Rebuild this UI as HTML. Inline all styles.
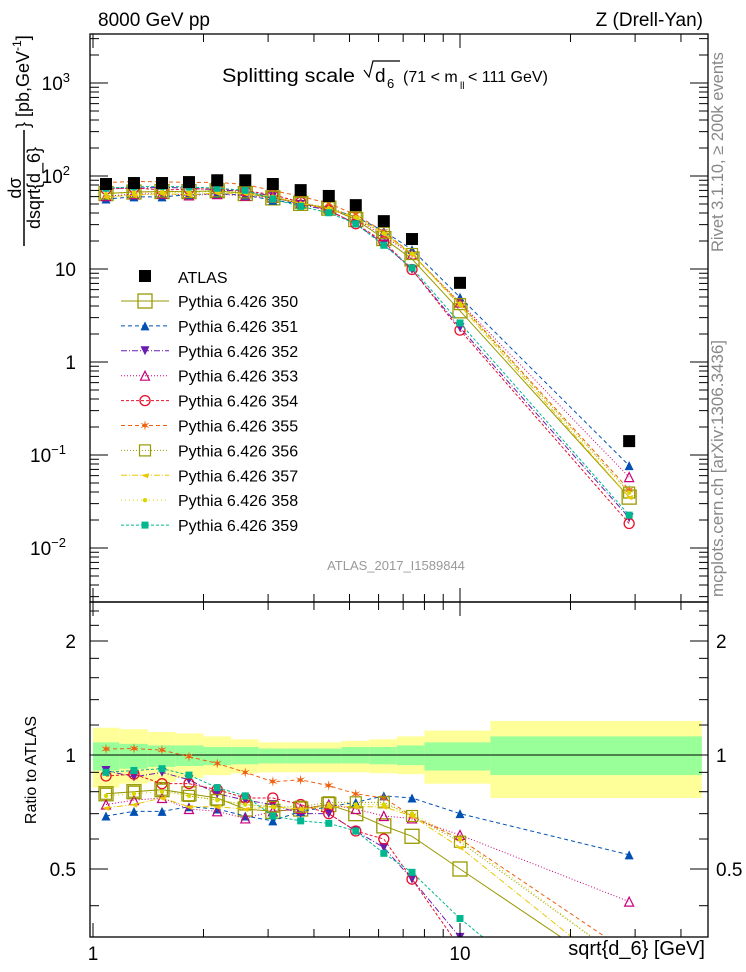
<!DOCTYPE html>
<html><head><meta charset="utf-8"><style>
html,body{margin:0;padding:0;background:#fff;overflow:hidden;width:746px;height:972px;}
svg{display:block;overflow:hidden;}
svg text{font-family:"Liberation Sans",sans-serif;}
</style></head><body>
<svg id="c" width="746" height="972" xmlns="http://www.w3.org/2000/svg"></svg>
<script>
const xCenters=[1.085,1.293,1.542,1.826,2.18,2.60,3.09,3.68,4.39,5.2,6.2,7.4,10,28.9];
const binEdges=[1,1.18,1.41,1.68,2,2.38,2.83,3.36,4,4.76,5.66,6.73,8,12.1,45.6];
const atlasValues=[82,84,84,86,90,90,82,70.5,61,48.6,32.7,21,7.1,0.141];
const bandYellowHi=[1.18,1.17,1.15,1.14,1.12,1.10,1.08,1.08,1.08,1.09,1.10,1.12,1.16,1.23];
const bandYellowLo=[0.82,0.84,0.85,0.87,0.885,0.895,0.90,0.90,0.90,0.90,0.895,0.89,0.84,0.77];
const bandGreenHi=[1.08,1.07,1.06,1.06,1.05,1.05,1.04,1.04,1.04,1.05,1.05,1.06,1.08,1.12];
const bandGreenLo=[0.91,0.92,0.93,0.935,0.94,0.945,0.95,0.95,0.95,0.95,0.945,0.94,0.91,0.885];
const seriesNames=["Pythia 6.426 350","Pythia 6.426 351","Pythia 6.426 352","Pythia 6.426 353","Pythia 6.426 354","Pythia 6.426 355","Pythia 6.426 356","Pythia 6.426 357","Pythia 6.426 358","Pythia 6.426 359"];
const ratio350=[0.79,0.80,0.81,0.79,0.77,0.72,0.71,0.72,0.74,0.70,0.65,0.61,0.50,0.25];
const ratio351=[0.69,0.71,0.71,0.73,0.72,0.69,0.67,0.71,0.73,0.75,0.78,0.77,0.70,0.545];
const ratio352=[0.91,0.875,0.90,0.86,0.79,0.76,0.74,0.70,0.70,0.63,0.57,0.47,0.33,0.15];
const ratio353=[0.74,0.76,0.77,0.72,0.71,0.68,0.71,0.72,0.74,0.72,0.69,0.68,0.615,0.41];
const ratio354=[0.88,0.89,0.84,0.84,0.81,0.77,0.77,0.74,0.70,0.63,0.60,0.47,0.31,0.13];
const ratio355=[1.037,1.04,1.03,0.99,0.95,0.90,0.85,0.86,0.83,0.79,0.77,0.69,0.60,0.30];
const ratio356=[0.79,0.80,0.81,0.78,0.76,0.74,0.73,0.73,0.75,0.75,0.75,0.69,0.59,0.28];
const ratio357=[0.725,0.74,0.77,0.73,0.73,0.72,0.73,0.72,0.73,0.73,0.73,0.69,0.57,0.25];
const ratio358=[0.78,0.79,0.80,0.78,0.76,0.74,0.73,0.72,0.74,0.74,0.74,0.70,0.60,0.28];
const ratio359=[0.90,0.91,0.92,0.885,0.82,0.78,0.69,0.67,0.66,0.63,0.55,0.49,0.37,0.16];
const ratios=[ratio350,ratio351,ratio352,ratio353,ratio354,ratio355,ratio356,ratio357,ratio358,ratio359];
const colors=["#999900","#0050b4","#6a1cb0","#c8007c","#e8102c","#f06010","#999900","#e8c800","#d8d800","#00b890"];
const dashes=["","4,3","6,2,1,2","1,2","3,2","4,3","1,2","6,2,1,2","1,3","3,2"];
const markers=["bigsq","tri","tridown","otri","ocirc","star","osq","star2","dot","sq"];

const NS="http://www.w3.org/2000/svg";
const svg=document.getElementById('c');
function el(t,a,p){const e=document.createElementNS(NS,t);for(const k in a)e.setAttribute(k,a[k]);(p||svg).appendChild(e);return e;}
const L=90,R=708,T=34,M=602,B=937;
const X=v=>93+367*Math.log10(v);
const Y=v=>362-93*Math.log10(v);
const RY=v=>755-114*Math.log2(v);

const defs=el('defs',{});
const cp1=el('clipPath',{id:'cm'},defs);el('rect',{x:L,y:T,width:R-L,height:M-T},cp1);
const cp2=el('clipPath',{id:'cr'},defs);el('rect',{x:L,y:M,width:R-L,height:B-M},cp2);

const gBand=el('g',{'clip-path':'url(#cr)'});


for(let i=0;i<xCenters.length;i++){
  const x0=X(binEdges[i]),x1=X(binEdges[i+1]);
  el('rect',{x:x0,y:RY(bandYellowHi[i]),width:x1-x0,height:RY(bandYellowLo[i])-RY(bandYellowHi[i]),fill:'#ffff99'},gBand);
  el('rect',{x:x0,y:RY(bandGreenHi[i]),width:x1-x0,height:RY(bandGreenLo[i])-RY(bandGreenHi[i]),fill:'#99ff99'},gBand);
}
el('line',{x1:L,x2:R,y1:RY(1),y2:RY(1),stroke:'#000','stroke-width':1},gBand);

function marker(g,type,x,y,c){
  const s=4.5;
  switch(type){
    case 'bigsq':return el('rect',{x:x-7,y:y-7,width:14,height:14,fill:'none',stroke:c,'stroke-width':1.3},g);
    case 'osq':return el('rect',{x:x-5.5,y:y-5.5,width:11,height:11,fill:'none',stroke:c,'stroke-width':1.2},g);
    case 'sq':return el('rect',{x:x-3.5,y:y-3.5,width:7,height:7,fill:c},g);
    case 'tri':return el('polygon',{points:`${x-s},${y+s} ${x+s},${y+s} ${x},${y-s}`,fill:c},g);
    case 'otri':return el('polygon',{points:`${x-s},${y+s} ${x+s},${y+s} ${x},${y-s}`,fill:'none',stroke:c,'stroke-width':1.2},g);
    case 'tridown':return el('polygon',{points:`${x-s},${y-s} ${x+s},${y-s} ${x},${y+s}`,fill:c},g);
    case 'ocirc':return el('circle',{cx:x,cy:y,r:5,fill:'none',stroke:c,'stroke-width':1.3},g);
    case 'star':{const t=el('text',{x:x,y:y+5,'text-anchor':'middle','font-size':14,fill:c},g);t.textContent='✶';return t;}
    case 'star2':return el('polygon',{points:`${x-4},${y} ${x+4},${y-2} ${x+3},${y+3}`,fill:c},g);
    case 'dot':return el('circle',{cx:x,cy:y,r:2.2,fill:c},g);
  }
}

for(let s=0;s<ratios.length;s++){
  const gm=el('g',{'clip-path':'url(#cm)'});
  
  
  const gr=el('g',{'clip-path':'url(#cr)'});
  
  
  const pm=xCenters.map((x,i)=>X(x)+','+Y(atlasValues[i]*ratios[s][i])).join(' ');
  const pr=xCenters.map((x,i)=>X(x)+','+RY(ratios[s][i])).join(' ');
  const st={fill:'none',stroke:colors[s],'stroke-width':1};
  if(dashes[s])st['stroke-dasharray']=dashes[s];
  el('polyline',Object.assign({points:pm},st),gm);
  el('polyline',Object.assign({points:pr},st),gr);
  xCenters.forEach((x,i)=>{
    marker(gm,markers[s],X(x),Y(atlasValues[i]*ratios[s][i]),colors[s]);
    marker(gr,markers[s],X(x),RY(ratios[s][i]),colors[s]);
  });
}
const ga=el('g',{'clip-path':'url(#cm)'});


xCenters.forEach((x,i)=>{el('rect',{x:X(x)-6,y:Y(atlasValues[i])-6,width:12,height:12,fill:'#000'},ga);});

el('rect',{x:L,y:T,width:R-L,height:M-T,fill:'none',stroke:'#000','stroke-width':1.3});
el('rect',{x:L,y:M,width:R-L,height:B-M,fill:'none',stroke:'#000','stroke-width':1.3});

const gx=el('g',{stroke:'#000','stroke-width':1});


for(let d=1;d<=40;d+=(d<10?1:10)){
  const x=X(d);if(x<L||x>R)continue;
  const big=(d===1||d===10);
  const len=big?14:8;
  [[T,1],[M,-1],[M,1],[B,-1]].forEach(([y0,dir])=>el('line',{x1:x,x2:x,y1:y0,y2:y0+dir*len},gx));
}
const gy=el('g',{stroke:'#000','stroke-width':1});


for(let e=-3;e<=3;e++){for(let m=1;m<10;m++){const y=Y(m*Math.pow(10,e));if(y<T||y>M)continue;const len=m===1?18:9;
  el('line',{x1:L,x2:L+len,y1:y,y2:y},gy);el('line',{x1:R,x2:R-len,y1:y,y2:y},gy);}}
[0.4,0.5,0.6,0.7,0.8,0.9,1,1.2,1.4,1.6,1.8,2,2.2,2.4].forEach(v=>{const y=RY(v);if(y<M||y>B)return;const big=(v===0.5||v===1||v===2);const len=big?18:9;
  el('line',{x1:L,x2:L+len,y1:y,y2:y},gy);el('line',{x1:R,x2:R-len,y1:y,y2:y},gy);});

function txt(x,y,s,a,name){const t=el('text',Object.assign({x:x,y:y},a||{}));t.textContent=s;return t;}
const yl=[[1000,'10','3'],[100,'10','2'],[10,'10',''],[1,'1',''],[0.1,'10','−1'],[0.01,'10','−2']];
yl.forEach(([v,b,p])=>{
  const t=el('text',{x:p?(p.length>1?66:70):76,y:Y(v)+7,'text-anchor':'end','font-size':19});
  
  t.textContent=b;
  if(p){const ts=el('tspan',{dy:-8,'font-size':13},t);ts.textContent=p;}
});
[[2,'2'],[1,'1'],[0.5,'0.5']].forEach(([v,s])=>{
  txt(76,RY(v)+7,s,{'text-anchor':'end','font-size':19},'ratio-tick-label-left');
  txt(716,RY(v)+7,s,{'text-anchor':'start','font-size':19},'ratio-tick-label-right');
});
txt(X(1),960,'1',{'text-anchor':'middle','font-size':19},'x-tick-1');
txt(X(10),960,'10',{'text-anchor':'middle','font-size':19},'x-tick-10');
txt(705,955,'sqrt{d_6} [GeV]',{'text-anchor':'end','font-size':20},'x-axis-title');
txt(98,26,'8000 GeV pp',{'font-size':19},'beam-label');
txt(703,26,'Z (Drell-Yan)',{'text-anchor':'end','font-size':19},'process-label');
txt(222,82,'Splitting scale',{'font-size':19,textLength:133,lengthAdjust:'spacingAndGlyphs'},'plot-title');
el('path',{d:'M364,70 L369,77 L373,61 L400,61',fill:'none',stroke:'#000','stroke-width':1.2});
txt(375,82,'d',{'font-size':19},'title-d');txt(387,88,'6',{'font-size':13},'title-sub6');
txt(403,82,'(71 < m',{'font-size':16},'title-mass');txt(460,89,'ll',{'font-size':10},'title-ll');txt(468,82,'< 111 GeV)',{'font-size':16},'title-mass2');
txt(396,570,'ATLAS_2017_I1589844',{'text-anchor':'middle','font-size':13,fill:'#999'},'analysis-id');
txt(0,0,'Rivet 3.1.10, ≥ 200k events',{'font-size':16.5,fill:'#888',transform:'translate(723,252) rotate(-90)'},'rivet-label');
txt(0,0,'mcplots.cern.ch [arXiv:1306.3436]',{'font-size':17,fill:'#888',transform:'translate(723,597) rotate(-90)'},'mcplots-label');
txt(0,0,'Ratio to ATLAS',{'font-size':16,'text-anchor':'middle',transform:'translate(36,770) rotate(-90)'},'ratio-axis-title');
const gyt=el('g',{transform:'translate(24,188) rotate(-90)'});

const t1=el('text',{x:0,y:-3,'text-anchor':'middle','font-size':18},gyt);t1.textContent='dσ';
el('line',{x1:-58,x2:58,y1:0,y2:0,stroke:'#000','stroke-width':1.5},gyt);
const t2=el('text',{x:0,y:16,'text-anchor':'middle','font-size':18},gyt);t2.textContent='dsqrt{d_6}';
const t3=el('text',{x:60,y:5,'font-size':18},gyt);t3.textContent='} [pb,GeV';
const t4=el('tspan',{dy:-8,'font-size':12},t3);t4.textContent='-1';
const t5=el('tspan',{dy:8,'font-size':18},t3);t5.textContent=']';

const gl=el('g',{});

el('rect',{x:139,y:270,width:12,height:12,fill:'#000'},gl);
txt(178,283,'ATLAS',{'font-size':16},'legend-entry');
seriesNames.forEach((n,s)=>{
  const y=301+s*24.9;
  const st={x1:121,x2:169,y1:y,y2:y,stroke:colors[s],'stroke-width':1};if(dashes[s])st['stroke-dasharray']=dashes[s];
  el('line',st,gl);marker(gl,markers[s],145,y,colors[s]);
  txt(178,y+6,n,{'font-size':16},'legend-entry');
});
</script>
</body></html>
